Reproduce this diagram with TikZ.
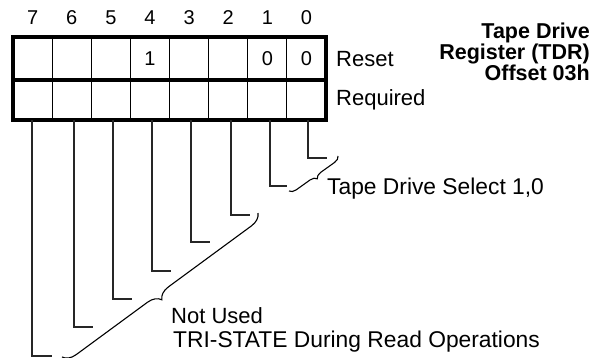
\documentclass[tikz,border=0pt]{standalone}
\usepackage{fontspec}
\setmainfont{Liberation Sans}
\usetikzlibrary{decorations.pathreplacing}
\begin{document}
\begin{tikzpicture}[x=1pt,y=-1pt,
  cell/.style={draw, line width=1.2pt, minimum width=39.125pt, inner sep=0pt, outer sep=0pt},
  bitnum/.style={font=\fontsize{20}{24}\selectfont, inner sep=0pt, anchor=base},
  val/.style={font=\fontsize{20}{24}\selectfont, inner sep=0pt},
  lbl/.style={font=\fontsize{22}{26}\selectfont, inner sep=0pt, anchor=base west},
  widelbl/.style={lbl, font=\fontsize{22.8}{26}\selectfont},
  ttl/.style={font=\fontsize{21.5}{17.2}\bfseries\selectfont, inner sep=0pt, align=right, anchor=north east},
  lead/.style={line width=1.2pt, color=black!85},
  bracebig/.style={decorate, decoration={brace, amplitude=13pt, aspect=0.53}, line width=1.1pt},
  bracesmall/.style={decorate, decoration={brace, amplitude=6.5pt}, line width=1.1pt}]
\useasboundingbox (0,0) rectangle (604,358);
% cells
\foreach \b in {0,...,7} {
  \pgfmathsetmacro\cx{13+39.125*(7-\b)+19.5625}
  \node[cell, minimum height=43pt] (t\b) at (\cx,58.5) {};
  \node[cell, minimum height=40pt] (u\b) at (\cx,100) {};
  \node[bitnum] (n\b) at (\cx,25) {\b};
}
\draw[line width=3.6pt] (13,37) rectangle (326,120);
\draw[line width=3.6pt] (13,80) -- (326,80);
% values
\node[val] (v4) at (t4) {1};
\node[val] (v1) at (t1) {0};
\node[val] (v0) at (t0) {0};
% row labels
\node[lbl] (reset) at (336,67) {Reset};
\node[lbl] (req) at (336,106) {Required};
% title
\node[ttl] (title) at (590,22.5) {Tape Drive\\Register (TDR)\\Offset 03h};
% leads
\foreach \b/\x/\y/\sx in {7/32/356/52, 6/74/327/93, 5/113/299/132, 4/152/271/171, 3/191/242/210, 2/231/215/250, 1/270/186/287, 0/308/158/327} {
  \coordinate (s\b) at (\x,\y);
  \coordinate (e\b) at (\sx,\y);
  \draw[lead] (s\b |- u\b.south) -- (s\b) -- (e\b);
}
% braces
\coordinate (ba) at (338,156);
\coordinate (bb) at (289,191);
\draw[bracesmall] (ba) -- (bb);
\coordinate (bc) at (258,213);
\coordinate (bd) at (62,357);
\draw[bracebig] (bc) -- (bd);
% labels
\node[widelbl] (tds) at (327,194) {Tape Drive Select 1,0};
\node[lbl] (nu) at (171,323) {Not Used};
\node[widelbl] (tri) at (173,347) {TRI-STATE During Read Operations};
\end{tikzpicture}
\end{document}
